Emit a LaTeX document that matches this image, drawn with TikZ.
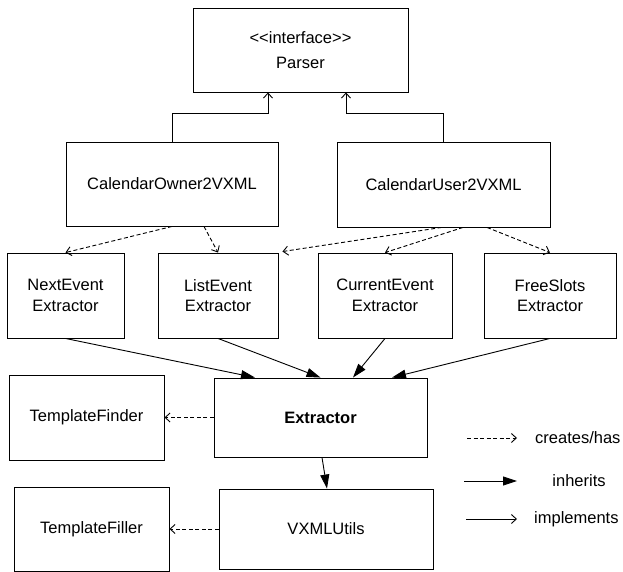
\documentclass[tikz,border=0pt]{standalone}
\usepackage{fontspec}
\setmainfont{Liberation Sans}
\usetikzlibrary{arrows.meta}
\tikzset{
  box/.style={draw, line width=0.9pt, inner sep=0pt, align=center,
    font=\fontsize{16.5}{20.5}\selectfont},
  implarrow/.style={line width=0.9pt, -{Straight Barb[length=5pt,width=9pt]}},
  hasarrow/.style={line width=0.9pt, dash pattern=on 4pt off 2.5pt, -{Straight Barb[length=5pt,width=9pt]}},
  inharrow/.style={line width=0.9pt, -{Triangle[length=14pt,width=9pt]}},
  lbl/.style={inner sep=0pt, font=\fontsize{16.5}{20}\selectfont}
}
\begin{document}
\begin{tikzpicture}[x=1pt,y=-1pt]
\useasboundingbox (0,0) rectangle (623,572);
% nodes
\node[box, minimum width=215pt, minimum height=84pt, font=\fontsize{16.5}{24.5}\selectfont] (parser) at (300.5,50) {<\kern0pt<interface>\kern0pt>\\Parser};
\node[box, minimum width=212pt, minimum height=84pt] (co) at (172,184) {CalendarOwner2VXML};
\node[box, minimum width=213pt, minimum height=85pt] (cu) at (443.5,184.5) {CalendarUser2VXML};
\node[box, minimum width=117pt, minimum height=85pt] (ne) at (65.5,295.5) {NextEvent\\Extractor};
\node[box, minimum width=120pt, minimum height=85pt] (le) at (218,295.5) {ListEvent\\Extractor};
\node[box, minimum width=134pt, minimum height=85pt] (ce) at (385,295.5) {CurrentEvent\\Extractor};
\node[box, minimum width=132pt, minimum height=85pt] (fs) at (550,295.5) {FreeSlots\\Extractor};
\node[box, minimum width=213pt, minimum height=79pt, font=\fontsize{16.5}{20}\selectfont\bfseries] (ex) at (320.5,417.5) {Extractor};
\node[box, minimum width=155pt, minimum height=85pt] (tf) at (86.5,417.5) {TemplateFinder};
\node[box, minimum width=214pt, minimum height=80pt] (vx) at (326,529) {VXMLUtils};
\node[box, minimum width=155pt, minimum height=84pt] (tl) at (91.5,529) {TemplateFiller};
% implements to Parser
\coordinate (j1) at (268,113);
\coordinate (j2) at (346,113);
\draw[implarrow] (co.north) |- (j1) -- (j1 |- parser.south);
\draw[implarrow] (cu.north) |- (j2) -- (j2 |- parser.south);
% creates/has
\draw[hasarrow] (co.south) -- (ne.north);
\draw[hasarrow] ([xshift=32pt]co.south) -- (le.north);
\draw[hasarrow] ([xshift=-2pt]cu.south) -- ([shift={(4,-1)}]le.north east);
\draw[hasarrow] ([xshift=19.5pt]cu.south) -- (ce.north);
\draw[hasarrow] ([xshift=43.5pt]cu.south) -- (fs.north);
\draw[hasarrow] (ex.west) -- (tf.east);
\draw[hasarrow] (vx.west) -- (tl.east);
% inherits
\draw[inharrow] (ne.south) -- ([xshift=-65.5pt]ex.north);
\draw[inharrow] (le.south) -- (ex.north);
\draw[inharrow] (ce.south) -- ([xshift=32.5pt]ex.north);
\draw[inharrow] (fs.south) -- ([xshift=71.5pt]ex.north);
\draw[inharrow] ([xshift=1.5pt]ex.south) -- ([xshift=1pt]vx.north);
% legend
\coordinate (la1) at (467,438); \coordinate (la2) at (517,438);
\coordinate (lb1) at (464,481); \coordinate (lb2) at (517,481);
\coordinate (lc1) at (466,519); \coordinate (lc2) at (517,519);
\draw[hasarrow] (la1) -- (la2);
\draw[inharrow] (lb1) -- (lb2);
\draw[implarrow] (lc1) -- (lc2);
\node[lbl, anchor=west] (lt1) at (535,438) {creates/has};
\node[lbl] (lt2) at (579,481) {inherits};
\node[lbl, anchor=west] (lt3) at (534,519) {implements};
\end{tikzpicture}
\end{document}
